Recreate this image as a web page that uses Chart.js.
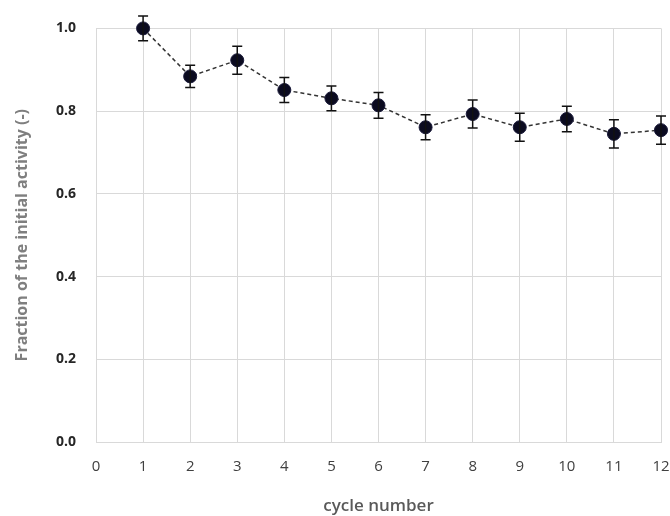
<!DOCTYPE html>
<html>
<head>
<meta charset="utf-8">
<script src="https://cdn.jsdelivr.net/npm/chart.js@4/dist/chart.umd.min.js"></script>
<style>
  html, body { margin: 0; padding: 0; background: #fff; }
  #wrap { width: 670px; height: 516px; }
</style>
</head>
<body>
<div id="wrap"><canvas id="chart" width="670" height="516"></canvas></div>
<script>
const cycles = [1, 2, 3, 4, 5, 6, 7, 8, 9, 10, 11, 12];
const activity = [1.0, 0.884, 0.923, 0.851, 0.831, 0.814, 0.761, 0.793, 0.761, 0.781, 0.745, 0.754];
const errors = [0.03, 0.027, 0.034, 0.03, 0.03, 0.031, 0.03, 0.034, 0.034, 0.031, 0.034, 0.034];
const xTicks = [0, 1, 2, 3, 4, 5, 6, 7, 8, 9, 10, 11, 12];
const yTicks = [0, 0.2, 0.4, 0.6, 0.8, 1.0];

const gridColor = "#d9d9d9";

// draws the vertical error bars with caps using the chart scales
const errorBars = {
  id: "errorBars",
  afterDatasetsDraw(chart) {
    const { ctx, scales } = chart;
    ctx.save();
    ctx.strokeStyle = "#111";
    ctx.lineWidth = 1.5;
    cycles.forEach((c, i) => {
      const x = scales.x.getPixelForValue(c);
      const yTop = scales.y.getPixelForValue(activity[i] + errors[i]);
      const yBot = scales.y.getPixelForValue(activity[i] - errors[i]);
      ctx.beginPath();
      ctx.moveTo(x, yTop);
      ctx.lineTo(x, yBot);
      ctx.moveTo(x - 5, yTop);
      ctx.lineTo(x + 5, yTop);
      ctx.moveTo(x - 5, yBot);
      ctx.lineTo(x + 5, yBot);
      ctx.stroke();
    });
    ctx.restore();
  },
};

new Chart(document.getElementById("chart"), {
  type: "scatter",
  data: {
    datasets: [
      {
        data: cycles.map((c, i) => ({ x: c, y: activity[i] })),
        showLine: true,
        clip: false,
        borderColor: "#333",
        borderWidth: 1.5,
        borderDash: [4, 3],
        pointRadius: 6.5,
        pointBackgroundColor: "#0b0b20",
        pointBorderColor: "#1a1a3a",
        pointBorderWidth: 1,
      },
    ],
  },
  options: {
    responsive: false,
    animation: false,
    layout: { padding: { left: 0, right: 9, top: 26, bottom: 0 } },
    plugins: { legend: { display: false }, tooltip: { enabled: false } },
    scales: {
      x: {
        type: "linear",
        min: 0,
        max: 12,
        afterFit(scale) {
          scale.height = 74;
          scale.paddingLeft = 0;
          scale.paddingRight = 0;
        },
        afterBuildTicks(scale) {
          scale.ticks = xTicks.map((v) => ({ value: v }));
        },
        grid: { color: gridColor, drawTicks: false },
        border: { color: gridColor },
        ticks: {
          padding: 16,
          color: "#404040",
          font: { family: "Open Sans", size: 15 },
          callback: (v) => String(v),
        },
        title: {
          display: true,
          text: "cycle number",
          color: "#595959",
          font: { family: "Open Sans", size: 17, weight: "600" },
          padding: { top: 0, bottom: 0 },
        },
      },
      y: {
        min: 0,
        max: 1.0,
        afterFit(scale) {
          scale.width = 96;
        },
        afterBuildTicks(scale) {
          scale.ticks = yTicks.map((v) => ({ value: v }));
        },
        grid: { color: gridColor, drawTicks: false },
        border: { color: gridColor },
        ticks: {
          padding: 20,
          color: "#262626",
          font: { family: "Open Sans", size: 14, weight: "bold" },
          callback: (v) => v.toFixed(1),
        },
        title: {
          display: true,
          text: "Fraction of the initial activity (-)",
          color: "#7f7f7f",
          font: { family: "Open Sans", size: 16, weight: "bold" },
          padding: { top: 13, bottom: 0 },
        },
      },
    },
  },
  plugins: [errorBars],
});
</script>
</body>
</html>
